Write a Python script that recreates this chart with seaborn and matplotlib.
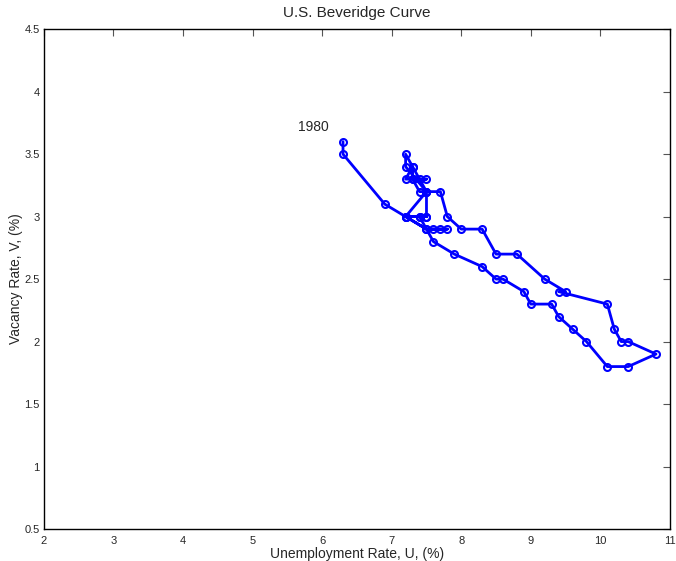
import pandas as pd
import matplotlib
matplotlib.use("Agg")
import matplotlib.pyplot as plt
import seaborn as sns
from matplotlib.ticker import FuncFormatter

# unemployment rate (%) and vacancy rate (%), in path order
unemployment = [
    6.3, 6.3, 6.9, 7.5, 7.6, 7.8, 7.7, 7.5, 7.2, 7.5, 7.4, 7.2, 7.5, 7.5, 7.2, 7.4, 7.6, 7.9, 8.3, 8.5,
    8.6, 8.9, 9.0, 9.3, 9.4, 9.6, 9.8, 10.1, 10.4, 10.8,
    10.4, 10.3, 10.2, 10.1, 9.4, 9.5, 9.2, 8.8, 8.5, 8.3,
    8.0, 7.8, 7.7, 7.5, 7.4, 7.3, 7.5, 7.4, 7.2, 7.3, 7.5, 7.2, 7.2, 7.3, 7.3,
]
vacancy = [
    3.6, 3.5, 3.1, 2.9, 2.9, 2.9, 2.9, 2.9, 3.0, 3.0, 3.0, 3.0, 3.2, 3.0, 3.0, 3.0, 2.8, 2.7, 2.6, 2.5,
    2.5, 2.4, 2.3, 2.3, 2.2, 2.1, 2.0, 1.8, 1.8, 1.9,
    2.0, 2.0, 2.1, 2.3, 2.4, 2.4, 2.5, 2.7, 2.7, 2.9,
    2.9, 3.0, 3.2, 3.2, 3.2, 3.3, 3.3, 3.3, 3.3, 3.4, 3.2, 3.4, 3.5, 3.4, 3.3,
]

x_ticks = [2, 3, 4, 5, 6, 7, 8, 9, 10, 11]
y_ticks = [0.5, 1, 1.5, 2, 2.5, 3, 3.5, 4, 4.5]

start_label = "1980"

df = pd.DataFrame({
    "U": unemployment,
    "V": vacancy,
    "step": range(len(unemployment))
})

sns.set_style("white")
plt.rcParams["font.family"] = ["Liberation Sans", "DejaVu Sans"]

fig = plt.figure(figsize=(6.76, 5.61), dpi=100)
ax = fig.add_axes([0.065, 0.057, 0.926, 0.891])

sns.lineplot(
    data=df,
    x="U",
    y="V",
    sort=False,
    estimator=None,
    color="blue",
    linewidth=2,
    marker="o",
    markersize=5,
    markerfacecolor="none",
    markeredgecolor="blue",
    markeredgewidth=1.5,
    ax=ax
)

ax.text(5.88, 3.72, start_label, ha="center", va="center", fontsize=10)

ax.set_xlim(2, 11)
ax.set_ylim(0.5, 4.5)
ax.set_xticks(x_ticks)
ax.set_yticks(y_ticks)
ax.yaxis.set_major_formatter(FuncFormatter(lambda val, pos: f"{val:g}"))

ax.tick_params(
    direction="in",
    length=5,
    width=0.8,
    top=True,
    right=True,
    labelsize=8,
    color="#555555"
)
ax.tick_params(axis="x", pad=5)
ax.tick_params(axis="y", pad=3)

for spine in ax.spines.values():
    spine.set_visible(True)
    spine.set_color("black")
    spine.set_linewidth(1.0)

ax.set_title("U.S. Beveridge Curve", fontsize=11, pad=9)
ax.set_xlabel("Unemployment Rate, U, (%)", fontsize=10, labelpad=1)
ax.set_ylabel("Vacancy Rate, V, (%)", fontsize=10, labelpad=1)

fig.savefig("out.png", dpi=100)
